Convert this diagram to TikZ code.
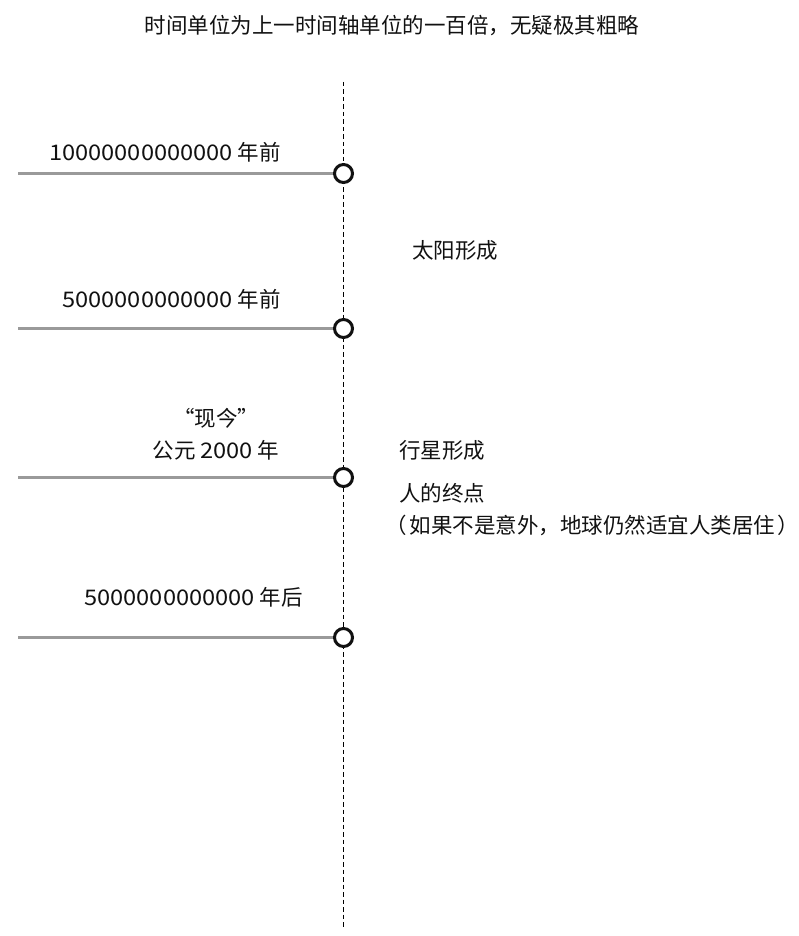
\documentclass[tikz,border=0pt]{standalone}
\usepackage{fontspec}
\setmainfont{Noto Sans CJK SC}
\newfontfamily\numfont{Noto Sans CJK SC}[FakeStretch=1.1]
\usetikzlibrary{positioning}
\definecolor{armgray}{HTML}{9A9A9A}
\definecolor{inkblack}{HTML}{111111}

\begin{document}
\begin{tikzpicture}[x=1pt,y=-1pt,
 ring/.style={circle,draw=inkblack,line width=3pt,fill=white,minimum size=18pt,inner sep=0pt},
 arm/.style={draw=armgray,line width=2.2pt},
 axis/.style={draw=black,line width=1.9pt,dash pattern=on 4.5pt off 3pt},
 lbl/.style={font=\fontsize{21.5}{25}\selectfont,inner sep=0pt,text=inkblack}]
\useasboundingbox (0,0) rectangle (799,936);
\node[lbl] (title) at (392,26) {时间单位为上一时间轴单位的一百倍，无疑极其粗略};
\coordinate (top) at (343.5,82);
\coordinate (bot) at (343.5,928);
\draw[axis] (top)--(bot);
% left ends of the arms
\coordinate (e1) at (18,173.5);
\coordinate (e2) at (18,328.5);
\coordinate (e3) at (18,477.5);
\coordinate (e4) at (18,637.5);
\node[ring] (c1) at (343.5,173.5) {};
\node[ring] (c2) at (343.5,328.5) {};
\node[ring] (c3) at (343.5,477.5) {};
\node[ring] (c4) at (343.5,637.5) {};
\draw[arm] (e1)--(c1);
\draw[arm] (e2)--(c2);
\draw[arm] (e3)--(c3);
\draw[arm] (e4)--(c4);
\node[lbl,anchor=east] (t1) at (281,152) {{\numfont 10000000000000} 年前};
\node[lbl,anchor=east] (t2) at (281,299) {{\numfont 5000000000000} 年前};
\node[lbl] (t3) at (216,418) {“现今”};
\node[lbl] (t3b) at (216,450) {公元 {\numfont 2000} 年};
\node[lbl,anchor=east] (t4) at (303,597) {{\numfont 5000000000000} 年后};
% events on the right
\node[lbl,anchor=west] (sun) at (412,250) {太阳形成};
\node[lbl,anchor=west] (plan) at (399,450) {行星形成};
\node[lbl,anchor=west] (man) at (399,493) {人的终点};
\node[lbl,anchor=west] (note) at (385,525) {（\hspace{3pt}如果不是意外，地球仍然适宜人类居住\hspace{2pt}）};
\end{tikzpicture}
\end{document}
